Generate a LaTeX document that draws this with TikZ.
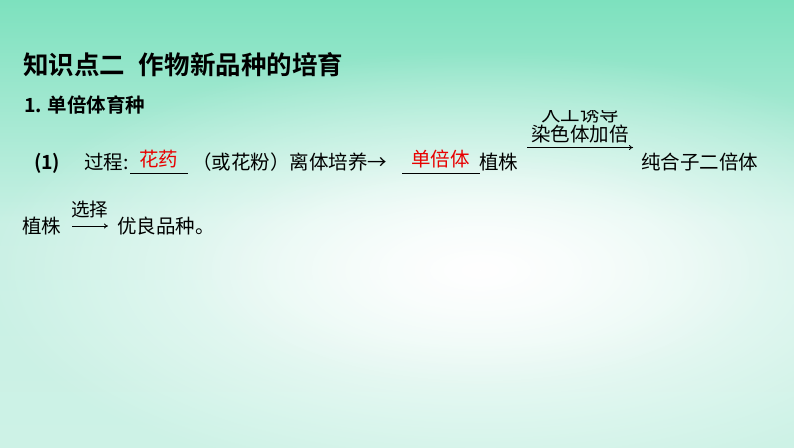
\documentclass[tikz,border=0pt]{standalone}
\usepackage{fontspec}
\setmainfont{Noto Sans CJK SC}[BoldFont={Noto Sans CJK SC Bold}]
\usetikzlibrary{fadings,arrows.meta}
\tikzfading[name=softfade, inner color=transparent!0, outer color=transparent!100]
\definecolor{topc}{RGB}{125,225,190}
\definecolor{midc}{RGB}{200,240,228}
\definecolor{botc}{RGB}{205,242,230}
\definecolor{ansred}{RGB}{232,0,0}
\tikzset{
  txt/.style={anchor=base west, inner sep=0pt, outer sep=0pt, text=black, font=\fontsize{19.5}{20}\selectfont},
  ans/.style={txt, text=ansred},
  blank/.style={line width=0.7pt, black},
  flow/.style={line width=0.8pt, -{To[length=4pt,width=5pt]}}
}
\begin{document}
\begin{tikzpicture}[x=1pt,y=-1pt]
\useasboundingbox (0,0) rectangle (794,447);
% background
\shade[top color=topc, bottom color=botc, middle color=midc] (0,0) rectangle (794,447);
\fill[white, path fading=softfade] (480,270) ellipse [x radius=500, y radius=220];
\fill[white, opacity=0.6, path fading=softfade] (480,270) ellipse [x radius=300, y radius=120];
% title
\node[txt, font=\fontsize{25.5}{26}\selectfont\bfseries] (title) at (23,74) {知识点二\hspace{14pt}作物新品种的培育};
\node[txt, font=\fontsize{19.5}{20}\selectfont\bfseries] (sub) at (24,112) {1.\hspace{6pt}单倍体育种};
% line 1
\node[txt, font=\fontsize{19.5}{20}\selectfont\bfseries] (p1) at (34,169) {(1)};
\node[txt] (guo) at (84,169) {过程:};
\coordinate (b1s) at (130,173);
\coordinate (b1e) at (188,173);
\draw[blank] (b1s) -- (b1e);
\node[ans] (a1) at (139,166) {花药};
\node[txt] (huo) at (192,169) {（或花粉）离体培养→};
\coordinate (b2s) at (402,173);
\coordinate (b2e) at (480,173);
\draw[blank] (b2s) -- (b2e);
\node[ans] (a2) at (411,166) {单倍体};
\node[txt] (zz1) at (479,169) {植株};
\coordinate (ar1s) at (527,147.5);
\coordinate (ar1e) at (633,147.5);
\draw[flow] (ar1s) -- (ar1e);
\begin{scope}
\clip (520,110) rectangle (640,150);
\node[txt] (rg) at (541,121) {人工诱导};
\end{scope}
\node[txt] (rs) at (531,141) {染色体加倍};
\node[txt] (chz) at (641,169) {纯合子二倍体};
% line 2
\node[txt] (zz2) at (22,233) {植株};
\node[txt, font=\fontsize{18.5}{19}\selectfont] (xz) at (71,216) {选择};
\coordinate (ar2s) at (72,226);
\coordinate (ar2e) at (108,226);
\draw[flow] (ar2s) -- (ar2e);
\node[txt] (yl) at (117,233) {优良品种。};
\end{tikzpicture}
\end{document}
